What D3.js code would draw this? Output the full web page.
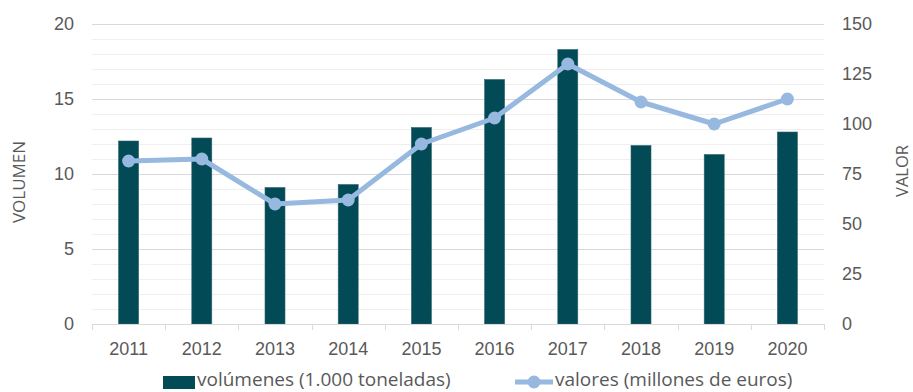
<!DOCTYPE html>
<html>
<head>
<meta charset="utf-8">
<script src="https://cdn.jsdelivr.net/npm/d3@7"></script>
<style>
  html, body { margin: 0; padding: 0; background: #fff; }
  svg { display: block; font-family: "Open Sans", "Noto Sans", sans-serif; }
</style>
</head>
<body>
<svg id="chart" width="913" height="392"></svg>
<script>
// Years on the category axis
const years = ["2011", "2012", "2013", "2014", "2015", "2016", "2017", "2018", "2019", "2020"];
// Volumes, thousand tonnes (left axis, bars)
const volumes = [12.2, 12.4, 9.1, 9.3, 13.1, 16.3, 18.3, 11.9, 11.3, 12.8];
// Values, million euros (right axis, line)
const values = [81.5, 82.5, 60, 62, 90, 103, 130, 111, 100, 112.5];
// Axis tick values
const leftTicks = [0, 5, 10, 15, 20];
const rightTicks = [0, 25, 50, 75, 100, 125, 150];
const leftMinor = d3.range(0, 21, 1);

const barLabel = "volúmenes (1.000 toneladas)";
const lineLabel = "valores (millones de euros)";

const barColor = "#024a56";
const lineColor = "#97b8df";
const textColor = "#595959";

const svg = d3.select("#chart");
const m = { left: 92, right: 824, top: 24, bottom: 324 };

const x = d3.scaleBand().domain(years).range([m.left, m.right]);
const yL = d3.scaleLinear().domain([0, 20]).range([m.bottom, m.top]);
const yR = d3.scaleLinear().domain([0, 150]).range([m.bottom, m.top]);

// Minor gridlines
svg.append("g").selectAll("line").data(leftMinor.filter(d => d % 5 !== 0)).join("line")
  .attr("x1", m.left).attr("x2", m.right)
  .attr("y1", d => yL(d) + 0.5).attr("y2", d => yL(d) + 0.5)
  .attr("stroke", "#efefef").attr("stroke-width", 1);

// Major gridlines
svg.append("g").selectAll("line").data(leftTicks.filter(d => d > 0)).join("line")
  .attr("x1", m.left).attr("x2", m.right)
  .attr("y1", d => yL(d) + 0.5).attr("y2", d => yL(d) + 0.5)
  .attr("stroke", "#d9d9d9").attr("stroke-width", 1);

// Bars
const bw = 20;
svg.append("g").selectAll("rect").data(volumes).join("rect")
  .attr("x", (d, i) => x(years[i]) + x.bandwidth() / 2 - bw / 2)
  .attr("y", d => yL(d))
  .attr("width", bw)
  .attr("height", d => yL(0) - yL(d))
  .attr("fill", barColor)
  .attr("stroke", "#2f6670").attr("stroke-width", 0.6);

// X axis
const xAxis = svg.append("g").attr("transform", `translate(0,${m.bottom})`)
  .call(d3.axisBottom(x).tickSize(0).tickPadding(18));
xAxis.select(".domain").remove();
xAxis.selectAll("text").attr("fill", textColor).style("font-size", "18px").attr("dy", "0.71em");
svg.append("line").attr("x1", m.left).attr("x2", m.right)
  .attr("y1", m.bottom + 0.5).attr("y2", m.bottom + 0.5).attr("stroke", "#d9d9d9");
// Category boundary tick marks
const bounds = years.map(y => x(y)).concat([m.right]);
svg.append("g").selectAll("line").data(bounds).join("line")
  .attr("x1", d => Math.round(d) + 0.5).attr("x2", d => Math.round(d) + 0.5)
  .attr("y1", m.bottom).attr("y2", m.bottom + 6)
  .attr("stroke", "#d9d9d9");

// Left axis
const lAxis = svg.append("g").attr("transform", `translate(${m.left},0)`)
  .call(d3.axisLeft(yL).tickValues(leftTicks).tickSize(0).tickPadding(18));
lAxis.select(".domain").remove();
lAxis.selectAll("text").attr("fill", textColor).style("font-size", "18px");

// Right axis
const rAxis = svg.append("g").attr("transform", `translate(${m.right},0)`)
  .call(d3.axisRight(yR).tickValues(rightTicks).tickSize(0).tickPadding(18));
rAxis.select(".domain").remove();
rAxis.selectAll("text").attr("fill", textColor).style("font-size", "18px");

// Line series
const line = d3.line()
  .x((d, i) => x(years[i]) + x.bandwidth() / 2)
  .y(d => yR(d));
svg.append("path").datum(values)
  .attr("d", line).attr("fill", "none")
  .attr("stroke", lineColor).attr("stroke-width", 5).attr("stroke-linejoin", "round");
svg.append("g").selectAll("circle").data(values).join("circle")
  .attr("cx", (d, i) => x(years[i]) + x.bandwidth() / 2)
  .attr("cy", d => yR(d))
  .attr("r", 6.5).attr("fill", lineColor);

// Axis titles
svg.append("text").attr("transform", `translate(25,182) rotate(-90)`)
  .attr("text-anchor", "middle").attr("fill", textColor).style("font-size", "17px")
  .text("VOLUMEN");
svg.append("text").attr("transform", `translate(908,171) rotate(-90)`)
  .attr("text-anchor", "middle").attr("fill", textColor).style("font-size", "16.5px")
  .text("VALOR");

// Legend
const lg = svg.append("g");
lg.append("rect").attr("x", 163).attr("y", 376).attr("width", 32).attr("height", 13).attr("fill", barColor);
lg.append("text").attr("x", 197).attr("y", 386).attr("fill", textColor).style("font-size", "19px").text(barLabel);
lg.append("line").attr("x1", 515).attr("x2", 553).attr("y1", 382).attr("y2", 382)
  .attr("stroke", lineColor).attr("stroke-width", 5);
lg.append("circle").attr("cx", 534).attr("cy", 382).attr("r", 6.5).attr("fill", lineColor);
lg.append("text").attr("x", 555).attr("y", 386).attr("fill", textColor).style("font-size", "19px").text(lineLabel);
</script>
</body>
</html>
